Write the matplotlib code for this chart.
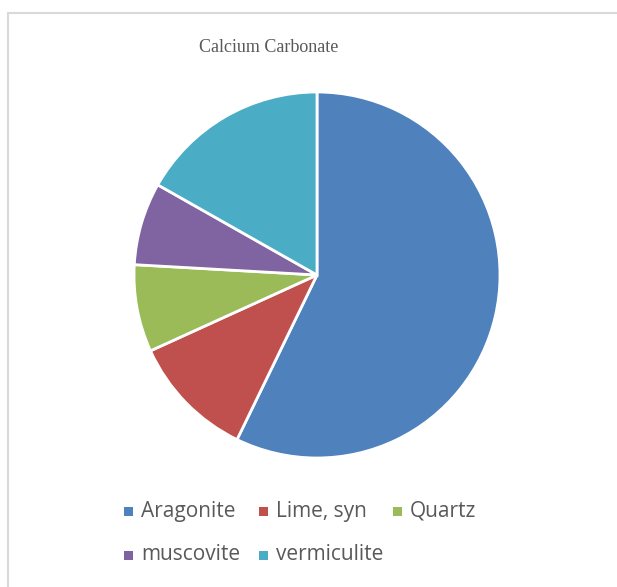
import matplotlib

matplotlib.use("Agg")
import matplotlib.pyplot as plt
from matplotlib.patches import Rectangle

labels = ["Aragonite", "Lime, syn", "Quartz", "muscovite", "vermiculite"]
values = [57.2, 11.0, 7.7, 7.3, 16.8]
colors = ["#4F81BD", "#C0504D", "#9BBB59", "#8064A2", "#4BACC6"]

W, H = 617, 587
fig = plt.figure(figsize=(W / 100, H / 100), dpi=100)

# chart frame (only top and left edges visible in the crop)
fig.patches.append(Rectangle((8 / W, -0.1), 1.2, (H - 13) / H + 0.1,
                             transform=fig.transFigure, facecolor="none",
                             edgecolor="#D9D9D9", linewidth=1.5, zorder=-1))

cx, cy, r = 317, 275, 183
ax = fig.add_axes([(cx - r) / W, (H - cy - r) / H, 2 * r / W, 2 * r / H])
ax.pie(values, colors=colors, startangle=90, counterclock=False,
       wedgeprops=dict(edgecolor="white", linewidth=2))
ax.set_xlim(-1, 1)
ax.set_ylim(-1, 1)
ax.axis("off")

fig.text(268.5 / W, 1 - 47 / H, "Calcium Carbonate", ha="center", va="center",
         family="Liberation Serif", fontsize=13, color="#595959")

# legend, Excel-style square markers
xs = [128, 263, 397, 128, 263]
ys = [511, 511, 511, 555, 555]
for lab, col, x, y in zip(labels, colors, xs, ys):
    fig.patches.append(Rectangle(((x - 4.5) / W, 1 - (y + 4.5) / H), 9 / W, 9 / H,
                                 transform=fig.transFigure, facecolor=col,
                                 edgecolor="none"))
    fig.text((x + 13) / W, 1 - y / H, lab, ha="left", va="center",
             family="Open Sans", fontsize=15, color="#595959")

fig.savefig("out.png", dpi=100)
